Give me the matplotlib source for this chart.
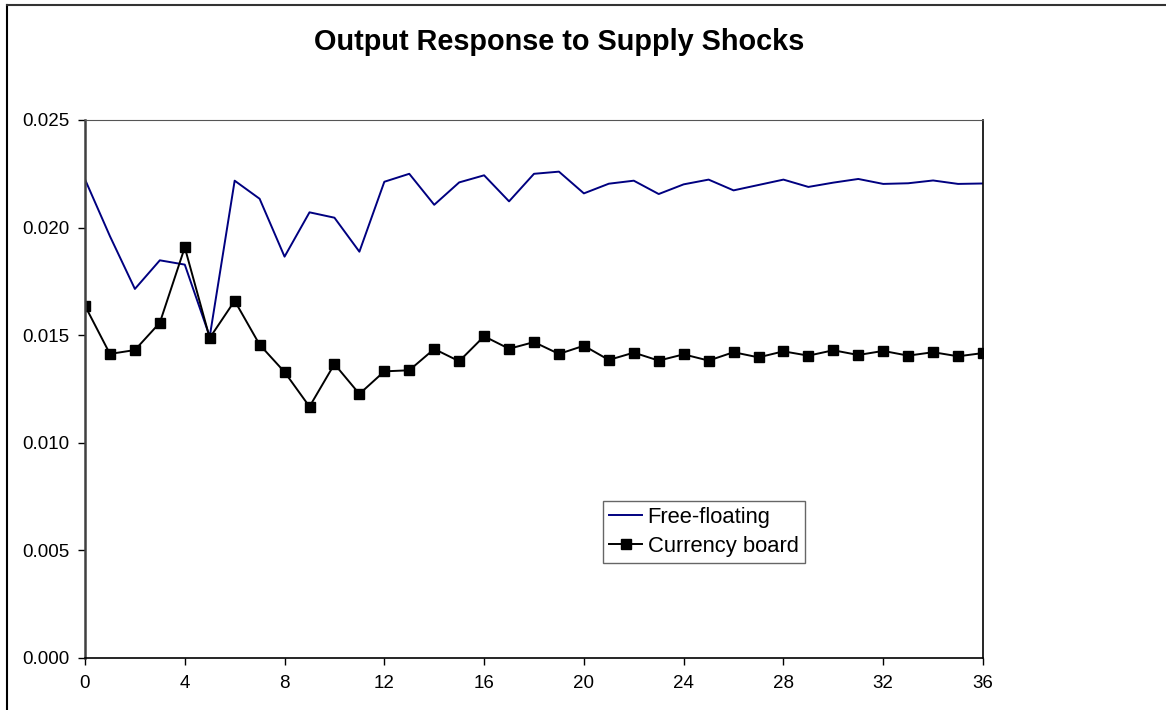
import numpy as np
import matplotlib
matplotlib.use("Agg")
import matplotlib.pyplot as plt

plt.rcParams["font.family"] = ["Liberation Sans", "DejaVu Sans"]

periods = np.arange(0, 37)
free_floating = [
    0.02224, 0.01960, 0.01715, 0.01848, 0.01828, 0.01493, 0.02218, 0.02134,
    0.01865, 0.02071, 0.02046, 0.01888, 0.02213, 0.02250, 0.02106, 0.02210,
    0.02243, 0.02122, 0.02250, 0.02260, 0.02159, 0.02204, 0.02218, 0.02156,
    0.02201, 0.02223, 0.02173, 0.02198, 0.02223, 0.02189, 0.02209, 0.02226,
    0.02203, 0.02206, 0.02219, 0.02203, 0.02205,
]
currency_board = [
    0.01637, 0.01413, 0.01431, 0.01558, 0.01908, 0.01487, 0.01660, 0.01456,
    0.01329, 0.01168, 0.01366, 0.01227, 0.01332, 0.01337, 0.01436, 0.01379,
    0.01495, 0.01437, 0.01468, 0.01413, 0.01451, 0.01385, 0.01419, 0.01382,
    0.01411, 0.01382, 0.01421, 0.01397, 0.01425, 0.01405, 0.01430, 0.01408,
    0.01427, 0.01405, 0.01421, 0.01402, 0.01417,
]
y_ticks = [0.000, 0.005, 0.010, 0.015, 0.020, 0.025]

fig = plt.figure(figsize=(11.66, 7.10), dpi=100)
ax = fig.add_axes([85 / 1166, 1 - 658 / 710, (983 - 85) / 1166, (658 - 120) / 710])

ax.plot(periods, free_floating, color="#000080", linewidth=1.4, label="Free-floating")
ax.plot(periods, currency_board, color="black", linewidth=1.4, marker="s",
        markersize=7, label="Currency board")

ax.set_xlim(0, 36)
ax.set_ylim(0, 0.025)
ax.set_xticks(np.arange(0, 37, 4))
ax.set_yticks(y_ticks)
ax.set_yticklabels([f"{v:.3f}" for v in y_ticks])
ax.tick_params(direction="out", length=5, width=1, labelsize=13.5, colors="black")
ax.tick_params(axis="x", pad=7)
ax.tick_params(axis="y", pad=6)

ax.spines["left"].set_color("#404040")
ax.spines["left"].set_linewidth(1.8)
ax.spines["bottom"].set_linewidth(1.2)
ax.spines["top"].set_color("#555555")
ax.spines["right"].set_linewidth(1.2)

fig.text(559 / 1166, 1 - 42 / 710, "Output Response to Supply Shocks", ha="center", va="center",
         fontsize=20.8, fontweight="bold")

leg = ax.legend(loc="upper left", bbox_to_anchor=((603 - 85) / 898, (658 - 501) / 538),
                fontsize=15.8, frameon=True, fancybox=False, borderaxespad=0,
                handlelength=1.5, handletextpad=0.25, borderpad=0.28, labelspacing=0.35)
leg.get_frame().set_edgecolor("#404040")
leg.get_frame().set_linewidth(1.0)

# outer chart frame (top and left edges visible)
fig.add_artist(plt.Line2D([7 / 1166, 7 / 1166], [0, 1 - 5 / 710], color="black",
                          linewidth=1.5, transform=fig.transFigure))
fig.add_artist(plt.Line2D([7 / 1166, 1], [1 - 5 / 710, 1 - 5 / 710], color="#333333",
                          linewidth=1.5, transform=fig.transFigure))

fig.savefig("out.png", dpi=100)
